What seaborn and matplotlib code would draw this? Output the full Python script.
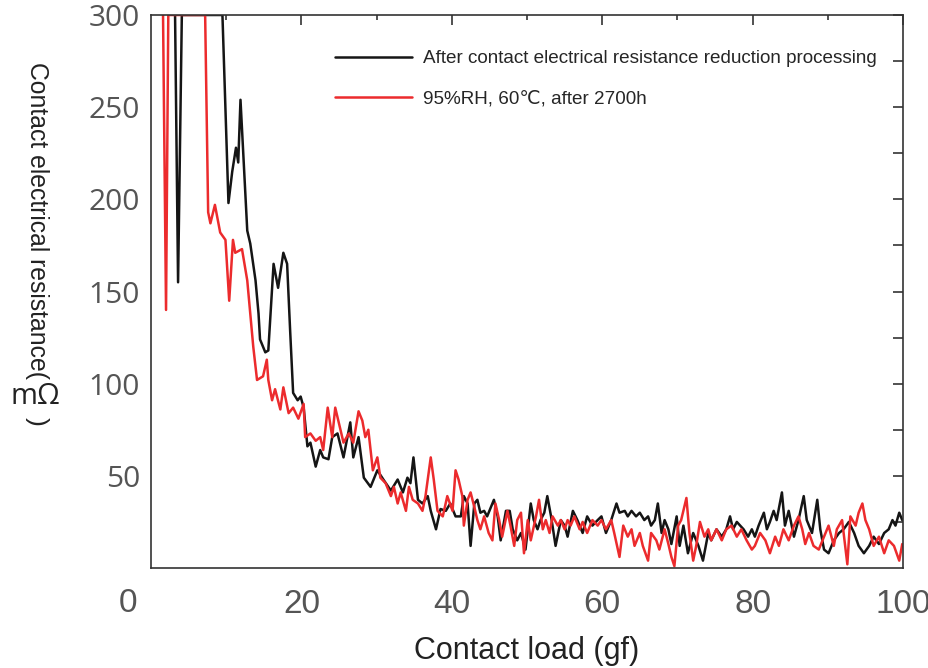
import matplotlib
matplotlib.use("Agg")
import matplotlib.pyplot as plt
import seaborn as sns
import pandas as pd
from matplotlib.ticker import FixedLocator

# ---------------- data ----------------
black_x = [3.2, 3.6, 4.1, 9.5, 10.3, 10.8, 11.3, 11.6, 11.9, 12.4, 12.8, 13.2, 13.9, 14.3, 14.5,
           15.2, 15.6, 16.3, 16.9, 17.6, 18.1, 18.5, 18.9, 19.5, 19.9, 20.3, 20.8, 21.2, 21.9,
           22.5, 22.9, 23.6, 24.1, 24.8, 25.6, 26.5, 26.9, 27.6, 28.3, 29.2, 30.1, 30.9, 31.9,
           32.8, 33.5, 34.1, 34.5, 34.9, 35.5, 36.1, 36.8, 37.2, 37.9, 38.5, 39.2, 39.8, 40.5,
           41.2, 41.6, 42.1, 42.5, 43.0, 43.4, 43.8, 44.3, 44.7, 45.2, 45.6, 46.1, 46.5, 47.2,
           47.7, 48.1, 48.7, 49.2, 49.8, 50.5, 50.9, 51.4, 51.8, 52.3, 52.7, 53.2, 53.8, 54.5,
           55.0, 55.4, 56.1, 56.7, 57.4, 58.0, 58.7, 59.4, 59.9, 60.5, 61.2, 61.9, 62.3, 63.0,
           63.4, 63.9, 64.5, 65.0, 65.6, 66.1, 66.5, 67.0, 67.4, 67.9, 68.3, 68.8, 69.2, 69.9,
           70.3, 70.8, 71.4, 72.1, 72.8, 73.4, 74.1, 74.5, 75.2, 75.9, 76.5, 77.0, 77.4, 77.9,
           78.8, 79.4, 79.9, 80.3, 80.8, 81.5, 81.9, 82.3, 82.8, 83.2, 83.9, 84.3, 84.8, 85.5,
           86.1, 86.8, 87.2, 87.9, 88.6, 89.0, 89.5, 90.1, 90.8, 91.5, 92.1, 92.8, 93.5, 94.1,
           94.8, 95.5, 96.1, 96.8, 97.5, 98.1, 98.6, 99.0, 99.5, 99.9]
black_y = [300, 155, 300, 300, 198, 215, 228, 220, 254, 215, 183, 176, 156, 138, 124,
           117, 118, 165, 152, 171, 165, 129, 95, 91, 93, 87, 66, 68, 55,
           64, 60, 59, 71, 73, 60, 79, 60, 71, 49, 44, 53, 48, 42,
           48, 41, 49, 46, 60, 37, 35, 39, 31, 21, 32, 31, 35, 28,
           28, 39, 35, 12, 35, 37, 30, 31, 28, 33, 37, 28, 15, 31,
           31, 21, 15, 19, 10, 35, 26, 21, 26, 30, 39, 28, 12, 26,
           23, 17, 31, 26, 19, 28, 23, 26, 28, 19, 26, 35, 30, 31,
           28, 31, 28, 30, 26, 28, 23, 26, 35, 19, 26, 21, 13, 28,
           12, 23, 8, 19, 12, 4, 19, 15, 21, 17, 21, 28, 21, 25,
           21, 17, 21, 17, 23, 30, 21, 25, 31, 26, 41, 23, 31, 17,
           26, 39, 26, 19, 37, 21, 10, 8, 15, 19, 21, 25, 19, 12,
           8, 12, 17, 13, 19, 21, 26, 23, 30, 26]

red_x = [1.6, 2.0, 2.3, 7.2, 7.6, 7.9, 8.5, 9.2, 9.9, 10.4, 10.9, 11.2, 12.1, 12.8, 13.2,
         13.6, 14.1, 14.9, 15.4, 15.6, 16.1, 16.5, 17.2, 17.6, 18.3, 18.9, 19.6, 20.3, 20.5,
         21.2, 21.9, 22.5, 22.9, 23.5, 24.1, 24.5, 25.2, 25.6, 26.3, 26.9, 27.6, 28.1, 28.5,
         28.9, 29.5, 30.1, 30.5, 31.2, 31.9, 32.3, 32.8, 33.2, 33.9, 34.3, 34.8, 35.5, 36.1,
         36.5, 37.2, 37.6, 38.1, 38.8, 39.4, 40.1, 40.5, 40.9, 41.4, 41.6, 42.1, 42.5, 43.0,
         43.4, 43.8, 44.3, 44.9, 45.4, 45.8, 46.3, 46.7, 47.4, 47.8, 48.3, 48.7, 49.2, 49.6,
         50.1, 50.5, 51.2, 51.6, 52.1, 52.5, 53.0, 53.4, 54.1, 54.5, 55.0, 55.4, 55.8, 56.3,
         57.0, 57.4, 58.0, 58.7, 59.4, 59.9, 60.5, 61.2, 61.6, 62.3, 62.8, 63.4, 63.9, 64.3,
         65.0, 65.4, 66.1, 66.5, 67.2, 67.6, 68.3, 68.8, 69.2, 69.6, 70.1, 70.5, 71.2, 71.6,
         72.1, 72.5, 73.0, 73.6, 74.1, 74.5, 75.2, 75.9, 76.5, 77.2, 77.9, 78.5, 79.2, 79.9,
         80.3, 81.0, 81.7, 82.3, 83.0, 83.5, 84.1, 84.8, 85.5, 86.1, 86.6, 87.0, 87.5, 88.1,
         88.8, 89.5, 90.1, 90.8, 91.2, 91.9, 92.6, 93.0, 93.7, 94.1, 94.6, 95.0, 95.5, 96.1,
         96.8, 97.5, 98.1, 98.8, 99.5, 99.9]
red_y = [300, 140, 300, 300, 193, 187, 197, 182, 178, 145, 178, 171, 173, 156, 138,
         120, 102, 104, 113, 102, 91, 97, 86, 98, 84, 87, 81, 89, 71,
         73, 69, 71, 64, 87, 71, 87, 75, 68, 73, 68, 85, 80, 71,
         75, 53, 60, 49, 46, 39, 44, 35, 41, 31, 44, 37, 35, 31,
         39, 60, 48, 31, 28, 39, 31, 53, 48, 39, 23, 37, 41, 33,
         26, 21, 28, 19, 15, 35, 26, 17, 31, 23, 12, 26, 30, 8,
         26, 15, 28, 37, 21, 26, 19, 28, 23, 26, 21, 26, 23, 28,
         21, 25, 19, 26, 23, 26, 21, 26, 19, 6, 23, 17, 21, 12,
         19, 12, 4, 19, 15, 10, 21, 13, 6, 1, 23, 26, 38, 19,
         4, 12, 25, 17, 21, 15, 21, 15, 21, 23, 17, 21, 15, 10,
         12, 19, 15, 8, 17, 12, 21, 15, 23, 28, 21, 13, 19, 12,
         10, 17, 23, 12, 21, 26, 2, 28, 23, 30, 35, 26, 21, 12,
         17, 8, 15, 12, 4, 13]

label_black = "After contact electrical resistance reduction processing"
label_red = "95%RH, 60\u2103, after 2700h"
x_label = "Contact load (gf)"
y_label_main = "Contact electrical resistance("
y_label_unit = "m\u03a9"
x_ticks = [20, 40, 60, 80, 100]
y_ticks = [50, 100, 150, 200, 250, 300]

# ---------------- style ----------------
sns.set_style("white")
plt.rcParams['font.family'] = ['Liberation Sans', 'DejaVu Sans']

narrow = ['Liberation Sans Narrow', 'Liberation Sans', 'DejaVu Sans']
opensans = ['Open Sans', 'DejaVu Sans']
gray = '#555555'

fig = plt.figure(figsize=(9.29, 6.68), dpi=100)
ax = fig.add_axes([151/929, 1 - 568/668, 752/929, (568 - 15)/668])

df_b = pd.DataFrame({"x": black_x, "y": black_y})
df_r = pd.DataFrame({"x": red_x, "y": red_y})
sns.lineplot(data=df_b, x="x", y="y", ax=ax, color="#151515", linewidth=1.8,
             sort=False, estimator=None, label=label_black)
sns.lineplot(data=df_r, x="x", y="y", ax=ax, color="#ec2b2d", linewidth=1.8,
             sort=False, estimator=None, label=label_red)

ax.set_xlim(0, 100)
ax.set_ylim(0, 300)

for s in ax.spines.values():
    s.set_color('#333333')
    s.set_linewidth(1.2)

ax.xaxis.set_major_locator(FixedLocator(x_ticks))
ax.xaxis.set_minor_locator(FixedLocator([10, 30, 50, 70, 90]))
ax.yaxis.set_major_locator(FixedLocator(y_ticks))
ax.yaxis.set_minor_locator(FixedLocator([25, 75, 125, 175, 225, 275]))
ax.tick_params(axis='both', which='both', direction='in', top=True, right=True,
               color='#222222', width=1.1)
ax.tick_params(axis='x', which='major', length=7, pad=15, labelsize=24, labelcolor=gray)
ax.tick_params(axis='x', which='minor', length=3.5)
ax.tick_params(axis='y', which='both', length=7)
ax.tick_params(axis='y', which='major', pad=8, labelsize=21.5, labelcolor=gray)
for lab in ax.get_xticklabels():
    lab.set_family(narrow)
for lab in ax.get_yticklabels():
    lab.set_family(opensans)

ax.set_xlabel(x_label, fontsize=22, family=narrow, color='#222222', labelpad=12)
ax.set_ylabel("")

# corner zero
fig.text(128/929, 1 - 603/668, "0", fontsize=24, family=narrow, color=gray,
         ha='center', va='center')

# y label in pieces
fig.text(37/929, 1 - 62/668, y_label_main, rotation=270, fontsize=17.8, family=narrow,
         color='#222222', ha='center', va='top')
fig.text(35/929, 1 - 396/668, y_label_unit, fontsize=21, family=opensans,
         color='#222222', ha='center', va='center')
fig.text(37/929, 1 - 421/668, ")", rotation=270, fontsize=19, family=narrow,
         color='#222222', ha='center', va='center')

leg = ax.legend(loc='upper left', bbox_to_anchor=((335 - 151)/752, (568 - 50)/553),
                frameon=False, fontsize=13.6, handlelength=4.1, handletextpad=0.55,
                labelspacing=1.2, borderpad=0, borderaxespad=0)

fig.savefig("out.png", dpi=100)
